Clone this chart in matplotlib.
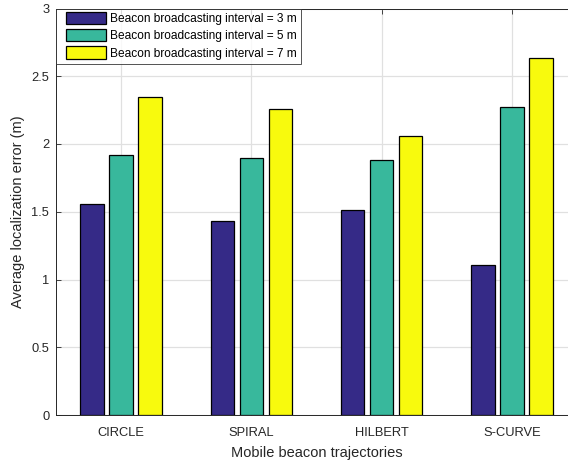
import numpy as np
import matplotlib
matplotlib.use("Agg")
import matplotlib.pyplot as plt
from matplotlib.patches import Rectangle
from matplotlib.container import BarContainer
from matplotlib.legend_handler import HandlerPatch, update_from_first_child

plt.rcParams['font.family'] = ['Liberation Sans', 'DejaVu Sans']

categories = ["CIRCLE", "SPIRAL", "HILBERT", "S-CURVE"]
interval_3m = [1.56, 1.43, 1.515, 1.11]
interval_5m = [1.92, 1.90, 1.885, 2.27]
interval_7m = [2.345, 2.26, 2.057, 2.635]
series_labels = ["Beacon broadcasting interval = 3 m",
                 "Beacon broadcasting interval = 5 m",
                 "Beacon broadcasting interval = 7 m"]
colors = ["#352A87", "#38B89C", "#F8FA0D"]
yticks = [0, 0.5, 1, 1.5, 2, 2.5, 3]
ytick_labels = ["0", "0.5", "1", "1.5", "2", "2.5", "3"]

W, H = 568, 463
fig = plt.figure(figsize=(W / 100, H / 100), dpi=100)
left, right, top, bottom = 56, 577, 8.5, 415
ax = fig.add_axes([left / W, (H - bottom) / H, (right - left) / W, (bottom - top) / H])

ink = "#262626"
x = np.arange(1, len(categories) + 1)
offsets = [-0.222, 0.0, 0.222]
width = 0.18
for vals, off, c, lab in zip([interval_3m, interval_5m, interval_7m], offsets, colors, series_labels):
    ax.bar(x + off, vals, width=width, color=c, edgecolor="black", linewidth=0.9,
           label=lab, zorder=3)

ax.set_xlim(0.5, 4.5)
ax.set_ylim(0, 3)
ax.set_xticks(x)
ax.set_xticklabels(categories)
ax.set_yticks(yticks)
ax.set_yticklabels(ytick_labels)
ax.tick_params(direction="in", length=3.5, width=0.6, colors=ink, labelsize=9.3,
               top=True, right=True)
ax.tick_params(axis="x", pad=8.5)
ax.tick_params(axis="y", pad=4.8)
ax.grid(True, color="#E0E0E0", linewidth=0.9, zorder=0)
ax.set_axisbelow(True)
for s in ax.spines.values():
    s.set_color(ink)
    s.set_linewidth(0.7)

ax.set_xlabel("Mobile beacon trajectories", fontsize=10.5, color=ink, labelpad=5)
ax.set_ylabel("Average localization error (m)", fontsize=10.5, color=ink, labelpad=4.5)


def inset_swatch(legend, orig_handle, xdescent, ydescent, width, height, fontsize):
    # swatch sits a little to the right inside its handle box
    shift = 4.5
    return Rectangle((-xdescent + shift, -ydescent - 0.6), width - shift, height + 1.2)


swatch_handler = HandlerPatch(patch_func=inset_swatch, update_func=update_from_first_child)
leg = ax.legend(loc="upper left", borderaxespad=0, fontsize=8.6, frameon=True,
                fancybox=False, edgecolor=ink, handlelength=3.8, handleheight=1.0,
                handletextpad=0.34, labelspacing=0.4, borderpad=0.35,
                handler_map={BarContainer: swatch_handler})
leg.get_frame().set_linewidth(0.7)
for t in leg.get_texts():
    t.set_color("black")

fig.savefig("out.png", dpi=100)
